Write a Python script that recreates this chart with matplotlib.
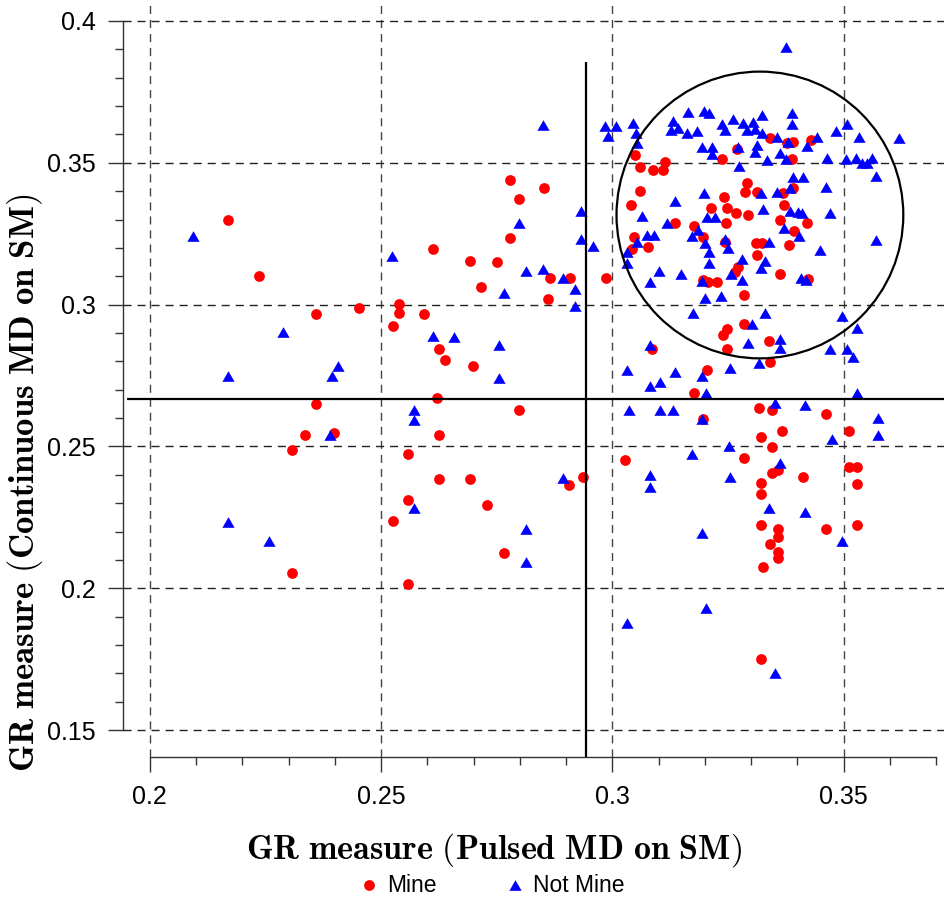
import numpy as np
import matplotlib
matplotlib.use("Agg")
import matplotlib.pyplot as plt
from matplotlib.patches import Ellipse

plt.rcParams['mathtext.fontset'] = 'cm'
plt.rcParams['font.family'] = ['Liberation Sans', 'DejaVu Sans']

# GR measures: x = pulsed MD on SM, y = continuous MD on SM
mine_x = [0.2169, 0.2236, 0.2359, 0.2452, 0.2359, 0.2335, 0.2307, 0.2307, 0.2398, 0.2538,
          0.2538, 0.2593, 0.2526, 0.2861, 0.2625, 0.2638, 0.2699, 0.2621, 0.2798, 0.2625,
          0.2558, 0.2625, 0.2692, 0.2906, 0.2936, 0.2558, 0.2526, 0.2729, 0.2766, 0.2558,
          0.2779, 0.2852, 0.2798, 0.2779, 0.2612, 0.2692, 0.2750, 0.2865, 0.2908, 0.2986,
          0.2716, 0.3285, 0.3248, 0.3239, 0.3339, 0.3086, 0.3248, 0.3341, 0.3205, 0.3176,
          0.3317, 0.3345, 0.3462, 0.3196, 0.3367, 0.3512, 0.3321, 0.3345, 0.3027, 0.3285,
          0.3358, 0.3345, 0.3412, 0.3512, 0.3529, 0.3529, 0.3321, 0.3321, 0.3321, 0.3358,
          0.3358, 0.3462, 0.3529, 0.3341, 0.3358, 0.3358, 0.3326, 0.3321, 0.3042, 0.3047,
          0.3077, 0.3135, 0.3176, 0.3196, 0.3196, 0.3207, 0.3226, 0.3246, 0.3244, 0.3272,
          0.3265, 0.3285, 0.3311, 0.3324, 0.3313, 0.3362, 0.3362, 0.3393, 0.3421, 0.3382,
          0.3423, 0.3049, 0.3060, 0.3088, 0.3114, 0.3109, 0.3060, 0.3040, 0.3241, 0.3213,
          0.3248, 0.3267, 0.3293, 0.3291, 0.3287, 0.3313, 0.3237, 0.3269, 0.3341, 0.3378,
          0.3391, 0.3429, 0.3388, 0.3369, 0.3391, 0.3371]
mine_y = [0.3298, 0.3101, 0.2967, 0.2988, 0.2650, 0.2540, 0.2487, 0.2054, 0.2547, 0.3002,
          0.2970, 0.2967, 0.2925, 0.3020, 0.2843, 0.2805, 0.2784, 0.2671, 0.2628, 0.2540,
          0.2473, 0.2385, 0.2385, 0.2364, 0.2392, 0.2311, 0.2237, 0.2293, 0.2124, 0.2015,
          0.3439, 0.3411, 0.3372, 0.3235, 0.3196, 0.3154, 0.3150, 0.3094, 0.3094, 0.3094,
          0.3062, 0.2932, 0.2914, 0.2893, 0.2872, 0.2843, 0.2843, 0.2798, 0.2769, 0.2688,
          0.2635, 0.2628, 0.2614, 0.2597, 0.2554, 0.2554, 0.2533, 0.2498, 0.2452, 0.2459,
          0.2417, 0.2406, 0.2392, 0.2427, 0.2427, 0.2367, 0.2371, 0.2332, 0.2223, 0.2209,
          0.2181, 0.2209, 0.2223, 0.2156, 0.2128, 0.2106, 0.2075, 0.1750, 0.3196, 0.3238,
          0.3203, 0.3288, 0.3277, 0.3238, 0.3087, 0.3080, 0.3080, 0.3288, 0.3221, 0.3133,
          0.3115, 0.3034, 0.3217, 0.3217, 0.3175, 0.3108, 0.3298, 0.3260, 0.3288, 0.3210,
          0.3090, 0.3528, 0.3485, 0.3475, 0.3503, 0.3475, 0.3401, 0.3351, 0.3379, 0.3341,
          0.3341, 0.3323, 0.3316, 0.3429, 0.3397, 0.3397, 0.3513, 0.3549, 0.3587, 0.3570,
          0.3573, 0.3580, 0.3513, 0.3394, 0.3411, 0.3351]

notmine_x = [0.2093, 0.2169, 0.2288, 0.2169, 0.2257, 0.2389, 0.2407, 0.2394, 0.2523, 0.2612,
             0.2657, 0.2755, 0.2755, 0.2571, 0.2571, 0.2571, 0.2813, 0.2813, 0.2893, 0.2850,
             0.2932, 0.2798, 0.2932, 0.2958, 0.2813, 0.2850, 0.2893, 0.2766, 0.2919, 0.2919,
             0.2984, 0.3008, 0.2990, 0.3032, 0.3202, 0.3352, 0.3174, 0.3330, 0.3497, 0.3302,
             0.3529, 0.3293, 0.3362, 0.3362, 0.3081, 0.3471, 0.3507, 0.3520, 0.3317, 0.3032,
             0.3135, 0.3254, 0.3194, 0.3081, 0.3103, 0.3202, 0.3529, 0.3036, 0.3103, 0.3131,
             0.3352, 0.3417, 0.3194, 0.3574, 0.3475, 0.3574, 0.3252, 0.3172, 0.3362, 0.3081,
             0.3081, 0.3254, 0.3339, 0.3417, 0.3194, 0.3497, 0.3032, 0.3053, 0.3075, 0.3090,
             0.3032, 0.3101, 0.3081, 0.3148, 0.3118, 0.3185, 0.3172, 0.3200, 0.3209, 0.3209,
             0.3194, 0.3200, 0.3235, 0.3244, 0.3250, 0.3280, 0.3256, 0.3280, 0.3339, 0.3330,
             0.3321, 0.3371, 0.3404, 0.3449, 0.3408, 0.3419, 0.3570, 0.3064, 0.3135, 0.3198,
             0.3205, 0.3222, 0.3045, 0.3051, 0.3053, 0.3163, 0.3198, 0.3209, 0.3131, 0.3127,
             0.3142, 0.3161, 0.3183, 0.3194, 0.3215, 0.3215, 0.3237, 0.3244, 0.3261, 0.3282,
             0.3291, 0.3304, 0.3308, 0.3272, 0.3274, 0.3313, 0.3308, 0.3321, 0.3324, 0.3388,
             0.3388, 0.3324, 0.3356, 0.3380, 0.3442, 0.3421, 0.3484, 0.3507, 0.3533, 0.3620,
             0.3362, 0.3375, 0.3334, 0.3464, 0.3505, 0.3527, 0.3540, 0.3551, 0.3561, 0.3570,
             0.3391, 0.3412, 0.3462, 0.3356, 0.3384, 0.3326, 0.3384, 0.3401, 0.3410, 0.3471,
             0.3375]
notmine_y = [0.3242, 0.2748, 0.2903, 0.2233, 0.2166, 0.2540, 0.2784, 0.2748, 0.3171, 0.2889,
             0.2886, 0.2858, 0.2741, 0.2628, 0.2593, 0.2283, 0.2209, 0.2092, 0.2389, 0.3633,
             0.3330, 0.3288, 0.3231, 0.3207, 0.3118, 0.3126, 0.3094, 0.3041, 0.3055, 0.2995,
             0.3630, 0.3630, 0.3594, 0.1877, 0.1930, 0.1701, 0.2970, 0.2970, 0.2960, 0.2932,
             0.2917, 0.2865, 0.2879, 0.2847, 0.2858, 0.2843, 0.2843, 0.2815, 0.2794, 0.2769,
             0.2762, 0.2776, 0.2748, 0.2713, 0.2727, 0.2688, 0.2688, 0.2628, 0.2628, 0.2628,
             0.2653, 0.2646, 0.2597, 0.2600, 0.2526, 0.2540, 0.2501, 0.2473, 0.2441, 0.2399,
             0.2357, 0.2392, 0.2283, 0.2269, 0.2195, 0.2166, 0.3185, 0.3221, 0.3245, 0.3245,
             0.3147, 0.3118, 0.3080, 0.3108, 0.3288, 0.3263, 0.3242, 0.3217, 0.3185, 0.3147,
             0.3083, 0.3023, 0.3030, 0.3231, 0.3200, 0.3161, 0.3108, 0.3087, 0.3221, 0.3154,
             0.3129, 0.3270, 0.3242, 0.3193, 0.3094, 0.3087, 0.3228, 0.3312, 0.3365, 0.3394,
             0.3309, 0.3309, 0.3640, 0.3605, 0.3570, 0.3679, 0.3683, 0.3676, 0.3647, 0.3616,
             0.3623, 0.3605, 0.3612, 0.3556, 0.3556, 0.3531, 0.3637, 0.3616, 0.3654, 0.3640,
             0.3616, 0.3644, 0.3619, 0.3556, 0.3489, 0.3563, 0.3538, 0.3394, 0.3669, 0.3676,
             0.3637, 0.3605, 0.3591, 0.3573, 0.3591, 0.3559, 0.3612, 0.3637, 0.3591, 0.3587,
             0.3535, 0.3513, 0.3510, 0.3517, 0.3513, 0.3517, 0.3499, 0.3499, 0.3517, 0.3453,
             0.3450, 0.3450, 0.3415, 0.3397, 0.3411, 0.3337, 0.3330, 0.3326, 0.3323, 0.3323,
             0.3908]

x_major = [0.2, 0.25, 0.3, 0.35]
y_major = [0.15, 0.2, 0.25, 0.3, 0.35, 0.4]
x_tick_labels = ['0.2', '0.25', '0.3', '0.35']
y_tick_labels = ['0.15', '0.2', '0.25', '0.3', '0.35', '0.4']

# decision thresholds and the cluster circle
x_threshold = 0.2943
y_threshold = 0.2666
circle_center = (0.3319, 0.3316)
circle_size = (0.0620, 0.1011)

W, H = 944, 902
fig = plt.figure(figsize=(W / 100, H / 100), dpi=100)
ax = fig.add_axes([123 / W, (H - 757) / H, (W - 123) / W, 757 / H])
ax.set_xlim(0.1942, 0.3717)
ax.set_ylim(0.1405, 0.4074)

for s in ('top', 'right'):
    ax.spines[s].set_visible(False)
ax.spines['left'].set_bounds(0.15, 0.4)
ax.spines['bottom'].set_bounds(0.2, 0.37)
for s in ('left', 'bottom'):
    ax.spines[s].set_color('#333333')
    ax.spines[s].set_linewidth(1.0)

ax.set_xticks(x_major)
ax.set_xticklabels(x_tick_labels)
ax.set_yticks(y_major)
ax.set_yticklabels(y_tick_labels)
ax.set_xticks(np.round(np.arange(0.2, 0.3701, 0.01), 3), minor=True)
ax.set_yticks(np.round(np.arange(0.15, 0.4001, 0.01), 3), minor=True)
ax.tick_params(which='major', length=10.8, width=1.0, color='#333333',
               labelsize=18, pad=9, labelcolor='black')
ax.tick_params(which='minor', length=5.8, width=1.0, color='#333333')

dash = (0, (5.8, 4.3))
for v in x_major:
    ax.axvline(v, color='#444444', lw=1.0, linestyle=dash, zorder=1)
for v in y_major:
    ax.axhline(v, color='#222222', lw=1.0, linestyle=dash, zorder=1)

ax.hlines(y_threshold, 0.195, 0.40, color='black', lw=1.6, zorder=4)
ax.vlines(x_threshold, 0.13, 0.3855, color='black', lw=1.6, zorder=4)

ax.add_patch(Ellipse(circle_center, circle_size[0], circle_size[1], fill=False,
                     edgecolor='black', lw=1.6, zorder=4))

tri = [(-0.866, -0.75), (0.866, -0.75), (0.0, 0.75)]
ax.scatter(mine_x, mine_y, s=60, marker='o', color='#ff0000', linewidths=0,
           zorder=2, label='Mine')
ax.scatter(notmine_x, notmine_y, s=78, marker=tri, color='#0000ff', linewidths=0,
           zorder=3, label='Not Mine')

fig.text(494 / W, 1 - 850 / H, r'$\mathbf{GR\ measure\ (Pulsed\ MD\ on\ SM)}$',
         ha='center', va='center', fontsize=24.5)
fig.text(25 / W, 1 - 483 / H, r'$\mathbf{GR\ measure\ (Continuous\ MD\ on\ SM)}$',
         ha='center', va='center', rotation=90, fontsize=25)

handles, labels = ax.get_legend_handles_labels()
fig.legend(handles, labels, loc='center', bbox_to_anchor=(492 / W, 1 - 885 / H),
           ncol=2, frameon=False, fontsize=16.5, handlelength=0.8, handletextpad=0.4,
           columnspacing=3.0, borderpad=0, scatterpoints=1)

fig.savefig('out.png', dpi=100)
